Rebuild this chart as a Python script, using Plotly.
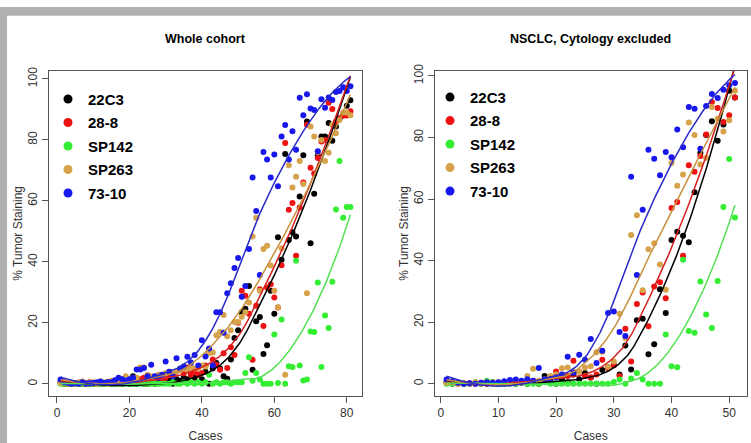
import numpy as np
import plotly.graph_objects as go

# ---------------- DATA ----------------
series_names = ["22C3", "28-8", "SP142", "SP263", "73-10"]

# Whole cohort (cases 1..81)
cases_left = list(range(1, 82))
left_22C3 = [0.5,0,0,0,0.3,0,0,0.2,0,0,0.3,0,0,0.5,0,0,0.5,0,0.3,0,
             2.5,0,0.5,0,0,0.5,0,0.5,1,0.5,1,0,1.5,1,2,1.5,3,2,3,1.5,
             4,0,5,6.8,5,2.5,1.7,8,15,17.6,23.5,24.6,32.1,4.6,20.5,21.9,9.8,12.7,30.5,23,
             48.1,40.7,75.4,47.2,49.7,48.3,61.4,75,86,46.1,62.3,75,81.1,81.1,85.5,79.7,84.4,87,88,91.2,
             93]
left_28_8 = [0.5,0,0.2,0,0,0.3,0,0,0.5,0,0,0.5,0,0.3,0.5,1,1.4,0.5,1,0.5,
             1,0.5,1.5,2,0.5,1,2,2.5,1.5,2,3,3,4,4.6,3.5,5.4,3,4,3,3.6,
             6,11.4,8,6.3,4.6,10,5.2,12,9.5,20,30.5,28.9,23,7.9,25.6,31,19,31.6,32.7,28.3,
             25,38.9,79,57.1,59.3,42,57.8,66,85,70.9,69,74.1,79.5,80,92.2,90.1,86,87.1,88,88,
             89.4]
left_SP142 = [0,0,0,0,0,0,0,0,0,0,0,0,0,0,0,0,0,0,0,0,
              0,0,0,0,0,0,0,0,0,0,0,0.5,0,0,0.5,0,0.5,0,0.5,0,
              0.5,3,0,0.5,0,0.5,0.5,0,0.5,0.5,0.5,3.6,8.7,1,3.6,1.4,0,0,0,16.2,
              0.3,21.1,0,5.8,5.5,40.4,6,1.1,1.4,17.2,17,33.2,5.5,22.4,18.3,33.5,57.2,73.1,54.5,58,
              58]
left_SP263 = [0.3,0.5,0,0.2,0,0.5,0.8,0,0.3,0.5,0,0.8,0.5,0,1,0.5,1,1.5,2.5,1.5,
              1.5,2,5.4,5.4,3,2.5,2,3,2.5,3.5,4,3.5,4,4.5,5,4.5,5.5,5,5.2,6,
              5.7,10,10.3,15.9,17,22.6,15.6,17.6,20.3,20.3,22,23.5,26.7,48.3,54.5,30.5,44.2,45.3,38.8,30.5,
              25.1,44.5,3,71.7,64.4,67.9,73.1,65.5,29.7,84.4,81.1,76,80,73.1,75.8,85,82.2,86.5,89,89,
              88.1]
left_73_10 = [1.4,0.5,0.3,0,0.2,0,0.5,0,0.2,0.3,0.5,0.8,0.3,0.5,0.5,1.2,2,1.5,1,1.5,
              2,4.7,4.7,5.2,2.5,6.3,2.5,2,3,7.3,4,2.5,8.4,5,5.7,8.9,7,9.5,6,14.3,
              9,11.6,6,23.5,23.5,16.8,29.7,33,38,41.3,28.6,32.1,44.2,67.7,56.7,35.7,76,73.6,67.7,75.2,
              64.8,81.1,84.9,73.6,82.8,76.8,93.8,88.1,95,90.3,89.8,76.3,93.3,90.5,93.9,93.1,95.7,96,97.3,96,
              97.6]

# NSCLC, cytology excluded (cases 1..51)
cases_right = list(range(1, 52))
right_22C3 = [0.5,0,0.3,0,0,0.2,0,0,0.3,0,0,0.5,0,0.3,0,0.5,0,2.5,1,0,
              1.5,0.5,3,1.5,3.5,2,0,4.5,5.3,6,3,12.4,4.6,20.6,21.1,9.6,12.8,30.7,23,46.7,
              49.4,48.1,46,62.2,75,80.8,85.3,78.9,84.2,95.2,93]
right_28_8 = [0.3,0.5,0,0,0.2,0,0.3,0,0.5,0,0.5,0.3,1,0.5,0.5,1,0.5,1,2,4,
              2.5,2.5,7.5,4,2.5,2,3,7.8,5.1,6,2.5,17.9,7.2,25.9,29.6,18.7,31.6,33,27.8,57.1,
              59,41.6,71,68.9,74,81,91.5,89.6,85,87.2,93]
right_SP142 = [0,0,0.5,0,0,0.5,0,1,0.5,0,0,0,0,0.5,0,0,0,0.5,0,0,
               0,0,0,0,0,0,0,0,0,0.6,1.4,0,1.7,3.5,1.4,0,0,0,16,5.7,
               5.4,40.3,17.1,16.6,33.2,22.5,18.1,33.4,57.4,73,54]
right_SP263 = [0.3,0.5,0,0.3,0,0.5,0,0.5,0,0.5,0.3,0.5,0.5,0.8,2.5,4.9,1,1.5,2.5,3,
               5,5.3,4,4,5.3,5.7,10.2,10.4,5.5,7.2,22.7,14.9,48.3,54.7,30.4,43.7,45.6,38.7,30.5,71.7,
               64.3,68,84.9,80.8,71.2,73.3,89.9,86.1,81.9,85.6,95.2]
right_73_10 = [1.4,0.8,0.3,0,0.2,0,0.3,0.5,0.3,0.5,0.8,1.2,1.4,1,1.5,1,5.1,1.5,1.5,2,
               3,8.8,3.6,9.4,7.8,14.5,6.7,10.7,23,23.5,16.8,15.5,67.2,35.3,56.5,76,73.1,67.7,75.3,73.6,
               82.6,76.8,89.9,89.3,76.3,90.2,94.1,92.8,95.5,97,97.7]

panel_titles = ["Whole cohort", "NSCLC, Cytology excluded"]
x_label = "Cases"
y_label = "% Tumor Staining"

# ---------------- STYLE ----------------
point_colors = ["#000000", "#ee1111", "#33ee33", "#d6a24a", "#1818ee"]
line_colors = ["#000000", "#d42020", "#55e055", "#c8903c", "#2a2ac8"]
FONT = "Liberation Sans, Arial, sans-serif"


def loess(x, y, grid, span=0.75):
    """Local quadratic regression with tricube weights (R loess defaults)."""
    x = np.asarray(x, float)
    y = np.asarray(y, float)
    q = int(np.floor(span * len(x)))
    out = []
    for g in grid:
        d = np.abs(x - g)
        h = np.sort(d)[q - 1]
        w = np.clip(1 - (d / h) ** 3, 0, None) ** 3
        X = np.vstack([np.ones_like(x), x - g, (x - g) ** 2]).T
        sw = np.sqrt(w)
        beta, *_ = np.linalg.lstsq(X * sw[:, None], y * sw, rcond=None)
        out.append(beta[0])
    return np.array(out)


fig = go.Figure()

panels = [
    (cases_left, [left_22C3, left_28_8, left_SP142, left_SP263, left_73_10], "x", "y", "legend"),
    (cases_right, [right_22C3, right_28_8, right_SP142, right_SP263, right_73_10], "x2", "y2", "legend2"),
]

for cases, values, xa, ya, lg in panels:
    xs = np.array(cases, dtype=float)
    grid = np.linspace(xs.min(), xs.max(), 200)
    for name, vals, pc in zip(series_names, values, point_colors):
        fig.add_trace(go.Scatter(x=cases, y=vals, mode="markers",
                                 marker=dict(color=pc, size=6, line=dict(width=0)),
                                 xaxis=xa, yaxis=ya, showlegend=False, hoverinfo="skip"))
    for name, vals, lc in zip(series_names, values, line_colors):
        fig.add_trace(go.Scatter(x=grid, y=loess(xs, vals, grid), mode="lines",
                                 line=dict(color=lc, width=1.5),
                                 xaxis=xa, yaxis=ya, showlegend=False, hoverinfo="skip"))
    for name, pc in zip(series_names, point_colors):
        fig.add_trace(go.Scatter(x=[None], y=[None], mode="markers", name=name,
                                 marker=dict(color=pc, size=9),
                                 xaxis=xa, yaxis=ya, legend=lg, legendgroup=lg + name,
                                 showlegend=True))

axis_common = dict(showgrid=False, zeroline=False, showline=True, mirror=True,
                   linecolor="#555555", linewidth=1, ticks="outside", ticklen=6,
                   tickcolor="#555555", tickfont=dict(family=FONT, size=12, color="#333333"),
                   title_font=dict(family=FONT, size=12, color="#333333"))

H, W = 443, 751
y_dom = [1 - 395 / H, 1 - 65 / H]
fig.update_layout(
    width=W, height=H, margin=dict(l=0, r=0, t=0, b=0),
    paper_bgcolor="white", plot_bgcolor="white",
    xaxis=dict(domain=[49 / W, 362 / W], range=[-2.2, 84.2], tickvals=[0, 20, 40, 60, 80],
               title=dict(text=x_label, standoff=12), anchor="y", **axis_common),
    yaxis=dict(domain=y_dom, range=[-3.9, 102.6], tickvals=[0, 20, 40, 60, 80, 100],
               tickangle=-90, title=dict(text=y_label, standoff=0), anchor="x", **axis_common),
    xaxis2=dict(domain=[435 / W, 746.5 / W], range=[-1, 53], tickvals=[0, 10, 20, 30, 40, 50],
                title=dict(text=x_label, standoff=12), anchor="y2", **axis_common),
    yaxis2=dict(domain=y_dom, range=[-3.9, 101.6], tickvals=[0, 20, 40, 60, 80, 100],
                tickangle=-90, title=dict(text=y_label, standoff=0), anchor="x2", **axis_common),
    legend=dict(x=48 / W, y=1 - 77 / H, xanchor="left", yanchor="top",
                bgcolor="rgba(0,0,0,0)", tracegroupgap=1,
                font=dict(family=FONT, size=15, color="black", weight="bold")),
    legend2=dict(x=430 / W, y=1 - 75 / H, xanchor="left", yanchor="top",
                 bgcolor="rgba(0,0,0,0)", tracegroupgap=1,
                 font=dict(family=FONT, size=15, color="black", weight="bold")),
    showlegend=True,
)

# panel titles
for title, dom in zip(panel_titles, [[49 / W, 362 / W], [435 / W, 746.5 / W]]):
    fig.add_annotation(text=title, x=(dom[0] + dom[1]) / 2, y=1 - 33 / H, xref="paper", yref="paper",
                       showarrow=False, xanchor="center", yanchor="middle",
                       font=dict(family=FONT, size=12.5, color="black", weight="bold"))

# grey slide frame (top and left)
fig.add_shape(type="rect", xref="paper", yref="paper", x0=0, x1=1, y0=1 - 9 / H, y1=1,
              fillcolor="#b0b0b0", line=dict(width=0), layer="below")
fig.add_shape(type="rect", xref="paper", yref="paper", x0=0, x1=7 / W, y0=0, y1=1,
              fillcolor="#b0b0b0", line=dict(width=0), layer="below")

fig.write_html("out.html", config={"displayModeBar": False},
               post_script="document.body.style.margin='0';document.body.style.overflow='hidden';")
